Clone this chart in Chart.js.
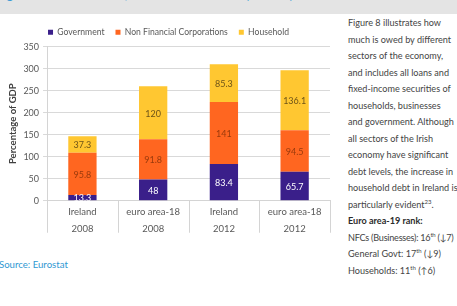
<!DOCTYPE html>
<html>
<head>
<meta charset="utf-8">
<script src="https://cdn.jsdelivr.net/npm/chart.js@4.4.1/dist/chart.umd.min.js"></script>
<style>
  html, body { margin: 0; padding: 0; background: #fff; }
  body { width: 457px; height: 306px; position: relative; overflow: hidden; font-family: Lato, "Open Sans", sans-serif; }
  #band { position: absolute; left: 0; top: 0; width: 457px; height: 14px; background: #e4e4e4; overflow: hidden; }
  #band span { position: absolute; left: -4px; top: -14px; font-size: 13px; color: #3a9bd5; white-space: nowrap; }
  #wrap { position: absolute; left: 0; top: 14px; width: 342px; height: 226px; }
  #source { position: absolute; left: -1px; top: 259px; font-size: 9.6px; color: #2f98d2; }
  #side { position: absolute; left: 348px; top: 15px; width: 109px; font-size: 9.1px; line-height: 16.5px; color: #444; white-space: nowrap; }
  #side b { color: #2b2b2b; }
  #side sup { font-size: 6px; line-height: 0; }
  #side .tight { letter-spacing: -0.25px; }
</style>
</head>
<body>
<div id="band"><span>Figure 8: Sectoral debt, Ireland vs euro area (% GDP)</span></div>
<div id="wrap"><canvas id="chart"></canvas></div>
<div id="source">Source: Eurostat</div>
<div id="side">
  Figure 8 illustrates how<br>
  much is owed by different<br>
  sectors of the economy,<br>
  and includes all loans and<br>
  fixed-income securities of<br>
  households, businesses<br>
  and government. Although<br>
  all sectors of the Irish<br>
  economy have significant<br>
  debt levels, the increase in<br>
  household debt in Ireland is<br>
  particularly evident<sup>23</sup>.<br>
  <b>Euro area-19 rank:</b><br>
  <span class="tight">NFCs (Businesses): 16<sup>th</sup> (↓7)</span><br>
  General Govt: 17<sup>th</sup> (↓9)<br>
  Households: 11<sup>th</sup> (↑6)
</div>
<script>
// ── Data ─────────────────────────────────────────────────────
const countries  = ['Ireland', 'euro area-18', 'Ireland', 'euro area-18'];
const years      = ['2008', '2008', '2012', '2012'];
const government = [13.3, 48, 83.4, 65.7];
const nfc        = [95.8, 91.8, 141, 94.5];
const household  = [37.3, 120, 85.3, 136.1];
const yTicks     = [0, 50, 100, 150, 200, 250, 300, 350];

const labels = countries.map((c, i) => [c, years[i]]);

// ── Value labels in the middle of each segment ──────────────
const segmentLabels = {
  id: 'segmentLabels',
  afterDatasetsDraw(chart) {
    const { ctx, chartArea } = chart;
    ctx.save();
    ctx.beginPath();
    ctx.rect(chartArea.left, chartArea.top, chartArea.right - chartArea.left, chartArea.bottom - chartArea.top);
    ctx.clip();
    ctx.font = '9px Lato, sans-serif';
    ctx.textAlign = 'center';
    ctx.textBaseline = 'middle';
    chart.data.datasets.forEach((ds, di) => {
      chart.getDatasetMeta(di).data.forEach((bar, i) => {
        const mid = (bar.y + bar.base) / 2;
        ctx.fillStyle = ds.labelColor;
        ctx.fillText(String(ds.data[i]), bar.x, mid + 1);
      });
    });
    ctx.restore();
  }
};

// ── Category separators under the x axis ────────────────────
const categorySeparators = {
  id: 'categorySeparators',
  afterDraw(chart) {
    const { ctx, chartArea } = chart;
    const x = chart.scales.x;
    const n = chart.data.labels.length;
    const step = (chartArea.right - chartArea.left) / n;
    ctx.save();
    ctx.strokeStyle = '#d4d4d4';
    ctx.lineWidth = 1;
    for (let i = 0; i <= n; i++) {
      const px = Math.round(x.left + i * step) + 0.5;
      ctx.beginPath();
      ctx.moveTo(px, chartArea.bottom);
      ctx.lineTo(px, chartArea.bottom + 32);
      ctx.stroke();
    }
    ctx.restore();
  }
};

new Chart(document.getElementById('chart'), {
  type: 'bar',
  data: {
    labels,
    datasets: [
      { label: 'Government', data: government, backgroundColor: '#3a1f8a', labelColor: '#ffffff' },
      { label: 'Non Financial Corporations', data: nfc, backgroundColor: '#ff6620', labelColor: '#9a3a0c' },
      { label: 'Household', data: household, backgroundColor: '#ffc731', labelColor: '#6e5418' }
    ]
  },
  options: {
    responsive: true,
    maintainAspectRatio: false,
    animation: false,
    datasets: { bar: { barPercentage: 0.4, categoryPercentage: 1 } },
    layout: { padding: { left: 7, right: 12, top: 3, bottom: 0 } },
    plugins: {
      legend: {
        position: 'top',
        labels: {
          boxWidth: 5, boxHeight: 5, padding: 11,
          color: '#595959', font: { family: 'Lato', size: 8.6 }
        }
      },
      tooltip: { enabled: false }
    },
    scales: {
      x: {
        stacked: true,
        grid: { offset: true, drawOnChartArea: false, drawTicks: false, color: '#d4d4d4' },
        border: { color: '#d4d4d4' },
        ticks: { padding: 3, color: '#595959', font: { family: 'Lato', size: 9.5, lineHeight: 1.75 } }
      },
      y: {
        stacked: true,
        min: 0, max: 350,
        afterBuildTicks: s => { s.ticks = yTicks.map(v => ({ value: v })); },
        grid: { color: '#d9d9d9', tickLength: 4 },
        border: { color: '#d4d4d4' },
        ticks: { padding: 4, color: '#595959', font: { family: 'Lato', size: 9 } },
        title: {
          display: true, text: 'Percentage of GDP', color: '#404040',
          font: { family: 'Lato', size: 9.5, weight: 'bold' }, padding: { top: 0, bottom: 1 }
        }
      }
    }
  },
  plugins: [segmentLabels, categorySeparators]
});
</script>
</body>
</html>
